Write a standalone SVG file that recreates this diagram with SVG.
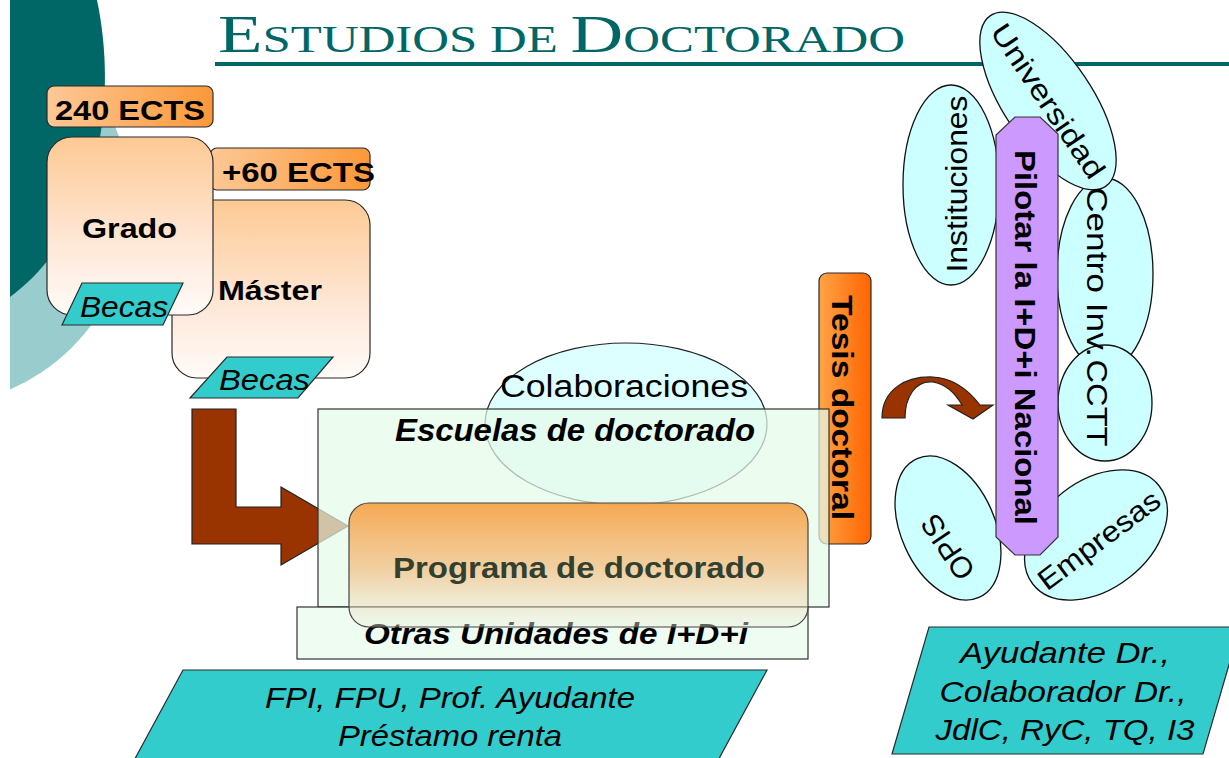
<svg xmlns="http://www.w3.org/2000/svg" width="1229" height="758" viewBox="0 0 1229 758">
<defs>
<style>
.sans{font-family:"Liberation Sans",Arial,sans-serif;}
.b{font-weight:bold;}
.i{font-style:italic;}
.stk{stroke:#2a2a2a;stroke-width:1.2;}
.cy{fill:#ccffff;stroke:#111;stroke-width:1.3;}
.teal{fill:#33cccc;stroke:#2a2a2a;stroke-width:1.2;}
.brown{fill:#993300;stroke:#222;stroke-width:1.2;}
</style>
<linearGradient id="gOrH" x1="0" y1="0" x2="1" y2="0"><stop offset="0" stop-color="#fdc896"/><stop offset="1" stop-color="#fb9838"/></linearGradient>
<linearGradient id="gPeach" x1="0" y1="0" x2="0" y2="1"><stop offset="0" stop-color="#fdc993"/><stop offset="0.6" stop-color="#fee8d8"/><stop offset="1" stop-color="#fffbf8"/></linearGradient>
<linearGradient id="gTesis" x1="0" y1="0" x2="1" y2="0"><stop offset="0" stop-color="#ffa445"/><stop offset="1" stop-color="#ff6400"/></linearGradient>
<linearGradient id="gProg" x1="0" y1="0" x2="0" y2="1"><stop offset="0" stop-color="#f6a040" stop-opacity="0.9"/><stop offset="0.55" stop-color="#f3c28a" stop-opacity="0.75"/><stop offset="1" stop-color="#eef0e0" stop-opacity="0.4"/></linearGradient>
<clipPath id="bgclip"><rect x="10" y="0" width="300" height="420"/></clipPath>
</defs>
<rect width="1229" height="758" fill="#ffffff"/>
<g id="background" clip-path="url(#bgclip)">
<circle cx="-70" cy="205" r="201" fill="#99cccc"/>
<path d="M0,0 L97,0 C118,100 100,230 10,297 L0,302 Z" fill="#006666"/>
</g>
<g id="title">
<text x="218" y="52" font-family="'Liberation Serif',serif" fill="#006666" textLength="687" lengthAdjust="spacingAndGlyphs"><tspan font-size="53">E</tspan><tspan font-size="37">STUDIOS DE </tspan><tspan font-size="53">D</tspan><tspan font-size="37">OCTORADO</tspan></text>
<rect x="215" y="62" width="1014" height="4" fill="#006666"/>
</g>
<g id="ects240">
<rect x="47" y="86" width="166" height="41" rx="7" fill="url(#gOrH)" class="stk"/>
<text x="55" y="120" class="sans b" font-size="28" textLength="150" lengthAdjust="spacingAndGlyphs">240 ECTS</text>
</g>
<g id="ects60">
<rect x="210" y="148" width="160" height="42" rx="7" fill="url(#gOrH)" class="stk"/>
<text x="222" y="182" class="sans b" font-size="28" textLength="153" lengthAdjust="spacingAndGlyphs">+60 ECTS</text>
</g>
<g id="master">
<rect x="172" y="200" width="198" height="178" rx="25" fill="url(#gPeach)" class="stk"/>
<text x="218" y="300" class="sans b" font-size="28" textLength="104" lengthAdjust="spacingAndGlyphs">Máster</text>
</g>
<g id="grado">
<rect x="47" y="137" width="166" height="178" rx="25" fill="url(#gPeach)" class="stk"/>
<text x="82" y="238" class="sans b" font-size="28" textLength="95" lengthAdjust="spacingAndGlyphs">Grado</text>
</g>
<g id="becas1">
<polygon points="62,325 82,283 183,283 163,325" class="teal"/>
<text x="80" y="317" class="sans i" font-size="30" textLength="88" lengthAdjust="spacingAndGlyphs">Becas</text>
</g>
<g id="becas2">
<polygon points="190,398 227,357 333,357 298,398" class="teal"/>
<text x="219" y="390" class="sans i" font-size="30" textLength="91" lengthAdjust="spacingAndGlyphs">Becas</text>
</g>
<g id="colaboraciones">
<ellipse cx="626" cy="424" rx="141" ry="81" fill="#ddffff" stroke="#222" stroke-width="1.2"/>
<text x="624" y="397" text-anchor="middle" class="sans" font-size="31" textLength="248" lengthAdjust="spacingAndGlyphs">Colaboraciones</text>
</g>
<g id="connectors">
<polygon points="192,409 236,409 236,507 281,507 281,487 348,526 281,565 281,544 192,544" class="brown"/>
<path d="M882,418 C882,390 905,376 933,377 C955,378 970,392 980,405 L993,405 L973,419 L948,405 L962,405 C955,393 945,384 933,382 C915,380 905,398 905,418 Z" class="brown" fill="#8a3000"/>
</g>
<g id="tesis">
<rect x="819" y="273" width="52" height="271" rx="8" fill="url(#gTesis)" class="stk"/>
<text transform="translate(832,295) rotate(90)" class="sans b" font-size="30" textLength="225" lengthAdjust="spacingAndGlyphs">Tesis doctoral</text>
</g>
<g id="escuelas">
<rect x="318" y="409" width="511" height="198" fill="#e4fbe9" fill-opacity="0.72" stroke="#333" stroke-width="1.2"/>
<text x="395" y="441" class="sans b i" font-size="31" textLength="360" lengthAdjust="spacingAndGlyphs">Escuelas de doctorado</text>
</g>
<g id="otras">
<rect x="297" y="607" width="511" height="52" fill="#eafbee" fill-opacity="0.8" stroke="#333" stroke-width="1.2"/>
<text x="364" y="644" class="sans b i" font-size="29" textLength="384" lengthAdjust="spacingAndGlyphs">Otras Unidades de I+D+i</text>
</g>
<g id="programa">
<rect x="349" y="503" width="459" height="124" rx="20" fill="url(#gProg)" stroke="#444" stroke-width="1.2"/>
<text x="393" y="578" class="sans b" font-size="29" fill="#33402f" textLength="372" lengthAdjust="spacingAndGlyphs">Programa de doctorado</text>
</g>
<g id="becas-doctorado">
<polygon points="183,670 767,670 715,766 131,766" class="teal"/>
<text x="450" y="708" text-anchor="middle" class="sans i" font-size="29" textLength="370" lengthAdjust="spacingAndGlyphs">FPI, FPU, Prof. Ayudante</text>
<text x="450" y="746" text-anchor="middle" class="sans i" font-size="29" textLength="224" lengthAdjust="spacingAndGlyphs">Préstamo renta</text>
</g>
<g id="instituciones">
<ellipse cx="951" cy="185" rx="48" ry="100" class="cy"/>
</g>
<g id="centro">
<ellipse cx="1105" cy="274" rx="48" ry="96" class="cy"/>
</g>
<g id="cctt">
<ellipse cx="1105" cy="403" rx="47" ry="58" class="cy"/>
</g>
<g id="universidad">
<ellipse cx="1048" cy="101" rx="103" ry="44" transform="rotate(56 1048 101)" class="cy"/>
</g>
<g id="opis">
<ellipse cx="948" cy="528" rx="76" ry="47" transform="rotate(66 948 528)" class="cy"/>
</g>
<g id="empresas">
<ellipse cx="1096" cy="535" rx="80" ry="54" transform="rotate(-38 1096 535)" class="cy"/>
</g>
<g id="pilotar">
<polygon points="996,135 1015,117 1040,117 1058,134 1058,537 1040,555 1015,555 996,537" fill="#cc99ff" stroke="#333" stroke-width="1.2"/>
<text transform="translate(1015,150) rotate(90)" class="sans b" font-size="30" textLength="375" lengthAdjust="spacingAndGlyphs">Pilotar la I+D+i Nacional</text>
</g>
<g id="cluster-labels">
<text transform="translate(967,184) rotate(-90)" text-anchor="middle" class="sans" font-size="30" textLength="177" lengthAdjust="spacingAndGlyphs">Instituciones</text>
<text transform="translate(1048,101) rotate(56)" x="0" y="10" text-anchor="middle" class="sans" font-size="29" textLength="180" lengthAdjust="spacingAndGlyphs">Universidad</text>
<text transform="translate(1087,272) rotate(90)" text-anchor="middle" class="sans" font-size="30" textLength="170" lengthAdjust="spacingAndGlyphs">Centro Inv.</text>
<text transform="translate(1087,403) rotate(90)" text-anchor="middle" class="sans" font-size="30" textLength="87" lengthAdjust="spacingAndGlyphs">CCTT</text>
<text transform="translate(948,547) rotate(236)" x="0" y="10" text-anchor="middle" class="sans" font-size="30">OPIS</text>
<text transform="translate(1099,540) rotate(-37)" x="0" y="10" text-anchor="middle" class="sans" font-size="29" textLength="145" lengthAdjust="spacingAndGlyphs">Empresas</text>
</g>
<g id="plazas">
<polygon points="929,627 1240,627 1203,754 892,754" class="teal"/>
<text x="1065" y="663" text-anchor="middle" class="sans i" font-size="29" textLength="210" lengthAdjust="spacingAndGlyphs">Ayudante Dr.,</text>
<text x="1063" y="702" text-anchor="middle" class="sans i" font-size="29" textLength="247" lengthAdjust="spacingAndGlyphs">Colaborador Dr.,</text>
<text x="1065" y="740" text-anchor="middle" class="sans i" font-size="29" textLength="259" lengthAdjust="spacingAndGlyphs">JdlC, RyC, TQ, I3</text>
</g>
</svg>
